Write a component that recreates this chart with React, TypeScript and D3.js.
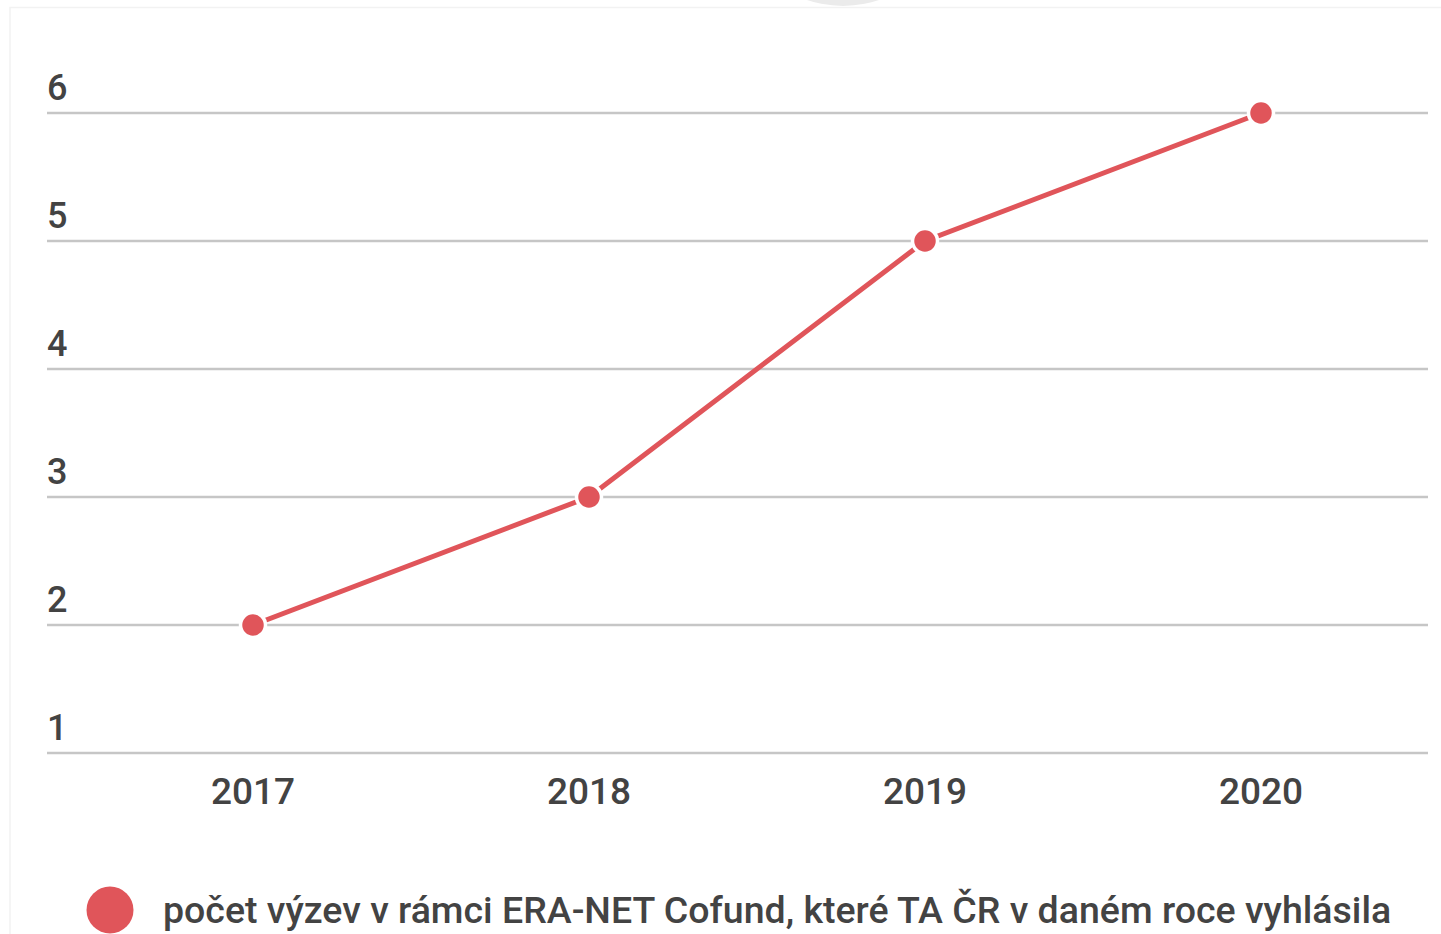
import React from "react";
import * as d3 from "d3";

const years = ["2017", "2018", "2019", "2020"];
const values = [2, 3, 5, 6];
const yTicks = [1, 2, 3, 4, 5, 6];
const legendLabel = "počet výzev v rámci ERA-NET Cofund, které TA ČR v daném roce vyhlásila";

const W = 1441;
const H = 934;
const RED = "#e0555a";
const TEXT = "#434343";
const FONT = "Roboto, 'Noto Sans', sans-serif";

export default function App() {
  const x = d3.scaleBand<string>().domain(years).range([85, 1429]);
  const y = d3.scaleLinear().domain([1, 6]).range([753, 113]);
  const cx = (i: number) => (x(years[i]) as number) + x.bandwidth() / 2;
  const line = d3
    .line<number>()
    .x((_, i) => cx(i))
    .y((d) => y(d));

  return (
    <svg
      width={W}
      height={H}
      style={{ position: "absolute", left: 0, top: 0, background: "#fff" }}
    >
      <rect x={10} y={7.5} width={1440} height={940} fill="none" stroke="#f2f2f2" strokeWidth={1.5} />
      <circle cx={843} cy={-105} r={111} fill="#ebebeb" />
      {yTicks.map((t) => (
        <g key={t}>
          <line x1={47} x2={1428} y1={y(t)} y2={y(t)} stroke="#c6c6c6" strokeWidth={2.4} />
          <text x={47} y={y(t) - 13} fontFamily={FONT} fontWeight={500} fontSize={36} fill={TEXT}>
            {t}
          </text>
        </g>
      ))}
      {years.map((yr, i) => (
        <text
          key={yr}
          x={cx(i)}
          y={804}
          textAnchor="middle"
          fontFamily={FONT}
          fontWeight={500}
          fontSize={37}
          fill={TEXT}
        >
          {yr}
        </text>
      ))}
      <path d={line(values) || ""} fill="none" stroke={RED} strokeWidth={5} />
      {values.map((v, i) => (
        <circle key={i} cx={cx(i)} cy={y(v)} r={12.5} fill={RED} stroke="#fff" strokeWidth={3.5} />
      ))}
      <circle cx={110} cy={910} r={23.5} fill={RED} />
      <text x={163} y={923} fontFamily={FONT} fontWeight={500} fontSize={37.5} fill={TEXT}>
        {legendLabel}
      </text>
    </svg>
  );
}
